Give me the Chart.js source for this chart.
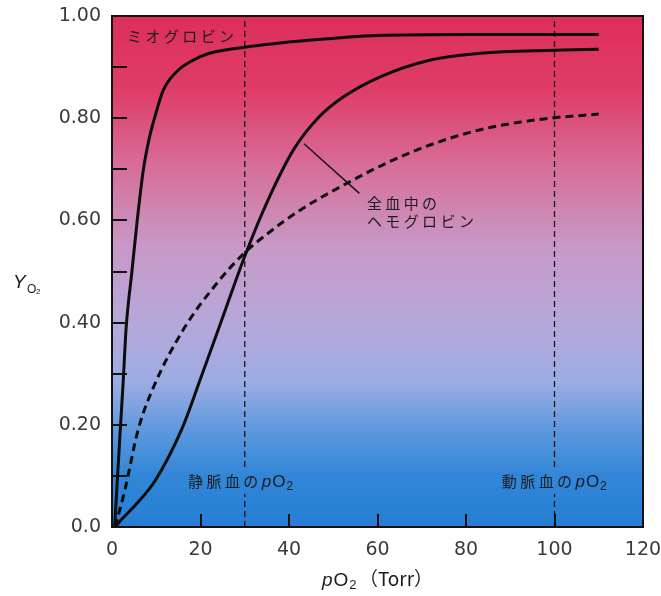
<!DOCTYPE html>
<html>
<head>
<meta charset="utf-8">
<script src="https://cdn.jsdelivr.net/npm/chart.js@4.4.1/dist/chart.umd.min.js"></script>
<style>
  html, body { margin: 0; padding: 0; background: #fff; }
  #wrap { width: 661px; height: 596px; position: relative; }
</style>
</head>
<body>
<div id="wrap"><canvas id="o2Chart"></canvas></div>
<script>
// Oxygen saturation curves
const myoPO2 = [0.6, 1.8, 2.5, 3.2, 4.5, 5.7, 7.1, 8.4, 9.6, 11.6, 14.6, 18, 22, 30, 45, 60, 80, 110];
const myoY   = [0, 0.18, 0.28, 0.39, 0.5, 0.6, 0.7, 0.76, 0.8, 0.855, 0.891, 0.912, 0.927, 0.939, 0.953, 0.962, 0.964, 0.964];

const bloodHbPO2 = [0.7, 2.2, 5.5, 9.7, 15.7, 20, 25, 30, 35, 41, 46.5, 52, 60.6, 72, 83, 100, 110];
const bloodHbY   = [0, 0.015, 0.045, 0.09, 0.19, 0.29, 0.41, 0.53, 0.635, 0.738, 0.8, 0.84, 0.881, 0.914, 0.927, 0.933, 0.935];

const dashedPO2 = [0.7, 2.9, 5.9, 9.7, 16.1, 23.7, 29.9, 35, 42.5, 53.8, 62, 72, 83, 92, 100, 110];
const dashedY   = [0, 0.072, 0.19, 0.28, 0.386, 0.477, 0.536, 0.573, 0.62, 0.676, 0.712, 0.748, 0.777, 0.792, 0.801, 0.808];

// venous / arterial pO2 markers
const markerPO2 = [30, 100];
const markerLabels = ['静脈血の', '動脈血の'];

// leader line for the whole-blood label
const leaderPO2 = [43.4, 55.9];
const leaderY = [0.75, 0.653];

const xTicks = [0, 20, 40, 60, 80, 100, 120];
const xMinorMarks = [20, 40, 60, 80, 100];
const yTickValues = [0, 0.2, 0.4, 0.6, 0.8, 1.0];
const yTickLabels = ['0.0', '0.20', '0.40', '0.60', '0.80', '1.00'];
const yMinorMarks = [0.1, 0.2, 0.3, 0.4, 0.5, 0.6, 0.7, 0.8, 0.9];

const pts = (xs, ys) => xs.map((x, i) => ({ x: x, y: ys[i] }));

const bgStops = [
  [0.0, 'rgb(222,46,90)'],
  [0.15, 'rgb(222,62,106)'],
  [0.3, 'rgb(214,112,154)'],
  [0.45, 'rgb(200,152,198)'],
  [0.6, 'rgb(182,168,218)'],
  [0.72, 'rgb(155,172,228)'],
  [0.82, 'rgb(88,150,220)'],
  [0.9, 'rgb(50,134,215)'],
  [1.0, 'rgb(38,126,212)'],
];

const JP = '"Noto Sans CJK JP", "Noto Sans", sans-serif';
const LAT = '"Liberation Sans", Arial, sans-serif';

// draws italic p + O + subscript 2, returns width
function drawPO2(ctx, x, y, size) {
  ctx.textBaseline = 'alphabetic';
  ctx.textAlign = 'left';
  ctx.font = 'italic ' + size + 'px ' + LAT;
  ctx.fillText('p', x, y);
  let w = ctx.measureText('p').width + 1;
  ctx.font = size + 'px ' + LAT;
  ctx.fillText('O', x + w, y);
  w += ctx.measureText('O').width + 1;
  const sub = Math.round(size * 0.68);
  ctx.font = sub + 'px ' + LAT;
  ctx.fillText('2', x + w, y + size * 0.18);
  w += ctx.measureText('2').width;
  return w;
}

function jpText(ctx, text, x, y, size) {
  ctx.font = size + 'px ' + JP;
  ctx.letterSpacing = '3.4px';
  ctx.textAlign = 'left';
  ctx.textBaseline = 'middle';
  ctx.fillText(text, x, y);
  const w = ctx.measureText(text).width;
  ctx.letterSpacing = '0px';
  return w;
}

const figurePlugin = {
  id: 'figure',
  beforeDraw(chart) {
    const { ctx, chartArea: a } = chart;
    const g = ctx.createLinearGradient(0, a.top, 0, a.bottom);
    bgStops.forEach(([o, c]) => g.addColorStop(o, c));
    chart.$bg = g;
    ctx.save();
    ctx.fillStyle = g;
    ctx.fillRect(a.left, a.top, a.right - a.left, a.bottom - a.top);
    ctx.restore();
  },
  afterDatasetsDraw(chart) {
    const { ctx, chartArea: a, scales: { x, y } } = chart;
    ctx.save();
    ctx.fillStyle = '#1c1c1c';
    ctx.strokeStyle = '#111';

    // inner tick marks
    ctx.lineWidth = 2;
    ctx.beginPath();
    yMinorMarks.forEach(v => {
      const py = Math.round(y.getPixelForValue(v));
      ctx.moveTo(a.left, py);
      ctx.lineTo(a.left + 15, py);
    });
    xMinorMarks.forEach(v => {
      const px = Math.round(x.getPixelForValue(v));
      ctx.moveTo(px, a.bottom);
      ctx.lineTo(px, a.bottom - 13);
    });
    ctx.stroke();

    // frame
    ctx.lineWidth = 2;
    ctx.strokeRect(a.left, a.top, a.right - a.left, a.bottom - a.top);

    // curve labels
    jpText(ctx, 'ミオグロビン', x.getPixelForValue(3.4), y.getPixelForValue(0.961), 15);
    jpText(ctx, '全血中の', x.getPixelForValue(57.6), y.getPixelForValue(0.634), 15);
    jpText(ctx, 'ヘモグロビン', x.getPixelForValue(57.6), y.getPixelForValue(0.599), 15);

    // venous / arterial labels, knocking out the dashed line behind them
    const labelP = [17.2, 88.1];
    markerLabels.forEach((t, i) => {
      const lx = x.getPixelForValue(labelP[i]);
      const ly = y.getPixelForValue(0.09);
      ctx.fillStyle = chart.$bg;
      ctx.fillRect(lx - 2, ly - 12, 116, 25);
      ctx.fillStyle = '#1c1c1c';
      const w = jpText(ctx, t, lx, ly, 15);
      drawPO2(ctx, lx + w, ly + 6, 17);
    });

    ctx.restore();
  },
  afterDraw(chart) {
    const { ctx, chartArea: a } = chart;
    ctx.save();
    ctx.fillStyle = '#1c1c1c';
    // y axis title: Y with subscript O2
    ctx.textAlign = 'left';
    ctx.textBaseline = 'alphabetic';
    ctx.font = 'italic 19px ' + LAT;
    ctx.fillText('Y', 13, 288);
    ctx.font = '12px ' + LAT;
    ctx.fillText('O', 27, 293);
    ctx.font = '8px ' + LAT;
    ctx.fillText('2', 36, 294);

    // x axis title: pO2 (Torr)
    ctx.font = '19px ' + JP;
    const tail = '（Torr）';
    const tw = ctx.measureText(tail).width;
    const pw = 37;
    const cx = (a.left + a.right) / 2;
    const x0 = cx - (pw + tw) / 2;
    const base = 586;
    drawPO2(ctx, x0, base, 19);
    ctx.font = '19px ' + JP;
    ctx.textAlign = 'left';
    ctx.fillText(tail, x0 + pw, base);
    ctx.restore();
  }
};

const lineStyle = {
  borderColor: '#0d0d0d',
  borderWidth: 3,
  pointRadius: 0,
  fill: false,
  cubicInterpolationMode: 'monotone',
};

const markerSets = markerPO2.map(p => ({
  data: [{ x: p, y: 0 }, { x: p, y: 1 }],
  borderColor: '#151515',
  borderWidth: 1.3,
  borderDash: [6, 4],
  pointRadius: 0,
}));

new Chart(document.getElementById('o2Chart'), {
  type: 'line',
  data: {
    datasets: [
      { label: 'ミオグロビン', data: pts(myoPO2, myoY), ...lineStyle },
      { label: '全血中のヘモグロビン', data: pts(bloodHbPO2, bloodHbY), ...lineStyle },
      { label: 'dashed', data: pts(dashedPO2, dashedY), ...lineStyle, borderDash: [8, 5] },
      ...markerSets,
      {
        label: 'leader',
        data: pts(leaderPO2, leaderY),
        borderColor: '#151515',
        borderWidth: 1.5,
        pointRadius: 0,
      },
    ],
  },
  options: {
    responsive: true,
    maintainAspectRatio: false,
    animation: false,
    layout: { padding: { top: 16, right: 18, left: 0, bottom: 0 } },
    plugins: { legend: { display: false }, tooltip: { enabled: false } },
    scales: {
      x: {
        type: 'linear',
        min: 0,
        max: 120,
        afterFit: s => { s.height = 69; s.paddingLeft = 0; s.paddingRight = 0; },
        afterBuildTicks: s => { s.ticks = xTicks.map(v => ({ value: v })); },
        grid: { display: false, drawTicks: false },
        border: { display: false },
        ticks: {
          padding: 12,
          color: '#3a3a3a',
          font: { family: 'DejaVu Sans', size: 19 },
        },
      },
      y: {
        type: 'linear',
        min: 0,
        max: 1,
        afterFit: s => { s.width = 112; s.paddingTop = 0; s.paddingBottom = 0; },
        afterBuildTicks: s => { s.ticks = yTickValues.map(v => ({ value: v })); },
        grid: { display: false, drawTicks: false },
        border: { display: false },
        ticks: {
          padding: 11,
          color: '#3a3a3a',
          font: { family: 'DejaVu Sans', size: 19 },
          callback: (v) => yTickLabels[yTickValues.indexOf(v)] ?? '',
        },
      },
    },
  },
  plugins: [figurePlugin],
});
</script>
</body>
</html>
